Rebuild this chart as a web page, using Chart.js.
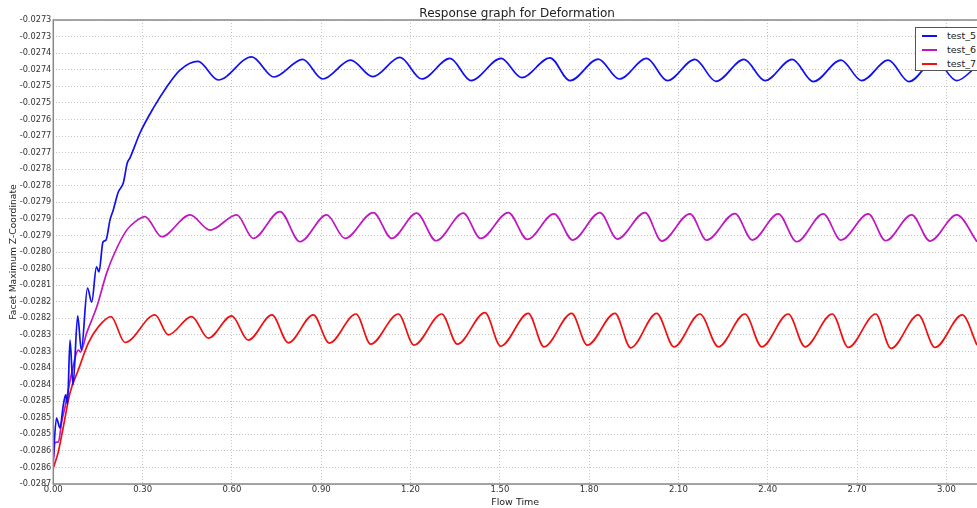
<!DOCTYPE html>
<html>
<head>
<meta charset="utf-8">
<script src="https://cdn.jsdelivr.net/npm/chart.js@4/dist/chart.umd.min.js"></script>
<style>
  html, body { margin:0; padding:0; background:#fff; overflow:hidden; }
  #wrap { position:relative; width:977px; height:508px; }
  #legend { position:absolute; left:915px; top:27px; width:90px; height:44px; background:#fff;
            border:1px solid #555; font:9.5px "DejaVu Sans", sans-serif; color:#222; box-sizing:border-box; }
  .leg-i { position:absolute; left:0; height:12px; line-height:12px; white-space:nowrap; }
  .leg-line { position:absolute; left:6px; top:5px; width:15px; height:2px; }
  .leg-t { position:absolute; left:31px; top:0; }
</style>
</head>
<body>
<div id="wrap">
  <canvas id="c" width="977" height="508"></canvas>
  <div id="legend"></div>
</div>
<script>
// ── reference data ──
const TITLE  = 'Response graph for Deformation';
const XLABEL = 'Flow Time';
const YLABEL = 'Facet Maximum Z-Coordinate';

const xTickValues = [0, 0.3, 0.6, 0.9, 1.2, 1.5, 1.8, 2.1, 2.4, 2.7, 3.0];
const xTickLabels = ['0.00','0.30','0.60','0.90','1.20','1.50','1.80','2.10','2.40','2.70','3.00'];
const xMin = 0, xMax = 3.1028;

const yMax = -0.0273, yMin = -0.0287, yStep = 0.00005;
const yTickLabels = ['-0.0273','-0.0273','-0.0274','-0.0274','-0.0275','-0.0275','-0.0276','-0.0277','-0.0277','-0.0278',
                     '-0.0278','-0.0279','-0.0279','-0.0279','-0.0280','-0.0280','-0.0281','-0.0282','-0.0282','-0.0283',
                     '-0.0283','-0.0284','-0.0284','-0.0285','-0.0285','-0.0285','-0.0286','-0.0286','-0.0287'];

// test_5 (blue)
const t5 = [0,0.0107,0.0225,0.0336,0.0417,0.0477,0.0561,0.0662,0.0820,0.0941,0.1149,0.1290,0.1451,0.1535,0.1669,0.1770,
            0.1905,0.2015,0.2183,0.2351,0.2486,0.2576,0.2912,0.3359,0.3809,0.4256,0.4861,0.5542,0.6664,0.7413,0.8378,
            0.9049,0.9990,1.0729,1.1646,1.2375,1.3326,1.4031,1.5039,1.5734,1.6684,1.7356,1.8307,1.9012,1.9933,2.0625,
            2.1555,2.2261,2.3201,2.3906,2.4823,2.5529,2.6459,2.7155,2.8048,2.8743,2.9617,3.0346,3.1028];
const v5 = [-0.028622,-0.028501,-0.028531,-0.028462,-0.028431,-0.028459,-0.028266,-0.028401,-0.028193,-0.028296,
            -0.028109,-0.028151,-0.028045,-0.028060,-0.027970,-0.027964,-0.027903,-0.027873,-0.027819,-0.027792,
            -0.027731,-0.027716,-0.027641,-0.027566,-0.027502,-0.027451,-0.027425,-0.027481,-0.027411,-0.027472,
            -0.027419,-0.027478,-0.027421,-0.027471,-0.027413,-0.027478,-0.027416,-0.027483,-0.027416,-0.027474,
            -0.027414,-0.027483,-0.027418,-0.027478,-0.027416,-0.027483,-0.027419,-0.027485,-0.027419,-0.027483,
            -0.027419,-0.027486,-0.027421,-0.027483,-0.027421,-0.027486,-0.027421,-0.027483,-0.027439];

// test_6 (magenta)
const t6 = [0,0.0057,0.0168,0.0292,0.0393,0.0618,0.0840,0.0914,0.1122,0.1458,0.1794,0.2073,0.2466,0.2744,0.3080,0.3641,
            0.4592,0.5264,0.6161,0.6718,0.7615,0.8287,0.9184,0.9798,1.0749,1.1367,1.2207,1.2855,1.3772,1.4357,1.5284,
            1.5922,1.6819,1.7447,1.8364,1.8945,1.9876,2.0436,2.1387,2.1948,2.2899,2.3480,2.4353,2.4971,2.5865,2.6459,
            2.7376,2.7961,2.8834,2.9449,3.0346,3.1028];
const v6 = [-0.028634,-0.028576,-0.028573,-0.028507,-0.028468,-0.028365,-0.028296,-0.028302,-0.028244,-0.028166,
            -0.028063,-0.028000,-0.027934,-0.027909,-0.027893,-0.027954,-0.027888,-0.027934,-0.027888,-0.027959,
            -0.027878,-0.027969,-0.027888,-0.027959,-0.027881,-0.027959,-0.027883,-0.027966,-0.027883,-0.027959,
            -0.027881,-0.027962,-0.027885,-0.027964,-0.027881,-0.027961,-0.027881,-0.027967,-0.027885,-0.027964,
            -0.027884,-0.027964,-0.027885,-0.027969,-0.027885,-0.027964,-0.027885,-0.027966,-0.027888,-0.027967,
            -0.027888,-0.027969];

// test_7 (red)
const t7 = [0,0.0168,0.0336,0.0561,0.0840,0.1176,0.1512,0.1938,0.2408,0.3416,0.3863,0.4649,0.5207,0.5993,0.6550,0.7346,
            0.7894,0.8734,0.9271,1.0168,1.0662,1.1589,1.2116,1.3047,1.3571,1.4501,1.5028,1.5956,1.6483,1.7413,1.7937,
            1.8868,1.9395,2.0268,2.0850,2.1723,2.2338,2.3235,2.3796,2.4689,2.5250,2.6167,2.6705,2.7625,2.8139,2.9056,
            2.9617,3.0534,3.1028];
const v7 = [-0.028652,-0.028603,-0.028528,-0.028425,-0.028356,-0.028275,-0.028226,-0.028195,-0.028273,-0.028190,
            -0.028250,-0.028195,-0.028260,-0.028193,-0.028266,-0.028190,-0.028274,-0.028190,-0.028275,-0.028187,
            -0.028278,-0.028187,-0.028281,-0.028187,-0.028278,-0.028183,-0.028284,-0.028185,-0.028286,-0.028185,
            -0.028281,-0.028185,-0.028289,-0.028185,-0.028286,-0.028187,-0.028286,-0.028187,-0.028286,-0.028187,
            -0.028286,-0.028187,-0.028288,-0.028187,-0.028291,-0.028190,-0.028288,-0.028190,-0.028281];

const FONT = '"DejaVu Sans", sans-serif';
const pts = (t, v) => t.map((x, i) => ({ x, y: v[i] }));
const ds = (label, t, v, color) => ({ label, data: pts(t, v), borderColor: color, backgroundColor: color,
  borderWidth: 1.7, pointRadius: 0, cubicInterpolationMode: 'monotone', fill: false });

const datasets = [
  ds('test_5', t5, v5, '#1010f0'),
  ds('test_6', t6, v6, '#c018c0'),
  ds('test_7', t7, v7, '#f01010'),
];

// frame + title drawn on top of the plot
const framePlugin = {
  id: 'frame',
  afterDraw(chart) {
    const { ctx, chartArea: a } = chart;
    ctx.save();
    ctx.setLineDash([]);
    ctx.strokeStyle = '#888'; ctx.lineWidth = 1.5;
    ctx.strokeRect(a.left, a.top, a.right - a.left + 4, a.bottom - a.top);
    ctx.fillStyle = '#222'; ctx.font = '12px ' + FONT;
    ctx.textAlign = 'center'; ctx.textBaseline = 'middle';
    ctx.fillText(TITLE, (a.left + a.right) / 2 + 2, 14);
    ctx.restore();
  }
};

const gridCol = '#c4c4c4';
new Chart(document.getElementById('c'), {
  type: 'line',
  data: { datasets },
  plugins: [framePlugin],
  options: {
    responsive: false, animation: false,
    layout: { padding: { top: 20, right: 0, left: 0, bottom: 0 } },
    plugins: { legend: { display: false }, tooltip: { enabled: false }, title: { display: false } },
    scales: {
      x: {
        type: 'linear', min: xMin, max: xMax,
        afterBuildTicks: s => { s.ticks = xTickValues.map(value => ({ value })); },
        afterFit: s => { s.height = 24; },
        grid: { color: gridCol, lineWidth: 1, drawTicks: false },
        border: { display: false, dash: [1, 2] },
        ticks: { autoSkip: false, maxRotation: 0, padding: 1, color: '#333', font: { family: FONT, size: 8.5 },
                 callback: (v, i) => xTickLabels[i] },
        title: { display: true, text: XLABEL, color: '#222', font: { family: FONT, size: 9.5 }, padding: { top: 3, bottom: 0 } },
      },
      y: {
        type: 'linear', min: yMin, max: yMax,
        afterBuildTicks: s => { s.ticks = yTickLabels.map((_, i) => ({ value: yMax - i * yStep })); },
        afterFit: s => { s.width = 53.3; },
        grid: { color: gridCol, lineWidth: 1, drawTicks: false },
        border: { display: false, dash: [1, 2] },
        ticks: { autoSkip: false, padding: 2, color: '#333', font: { family: FONT, size: 8.2 },
                 callback: (v, i) => yTickLabels[i] },
        title: { display: true, text: YLABEL, color: '#222', font: { family: FONT, size: 9.2 }, padding: { top: 8, bottom: 0 } },
      },
    },
  },
});

// legend box in the top-right corner, like the original
document.getElementById('legend').innerHTML = datasets.map((d, i) =>
  `<div class="leg-i" style="top:${2 + i * 14}px"><div class="leg-line" style="background:${d.borderColor}"></div><span class="leg-t">${d.label}</span></div>`
).join('');
</script>
</body>
</html>
